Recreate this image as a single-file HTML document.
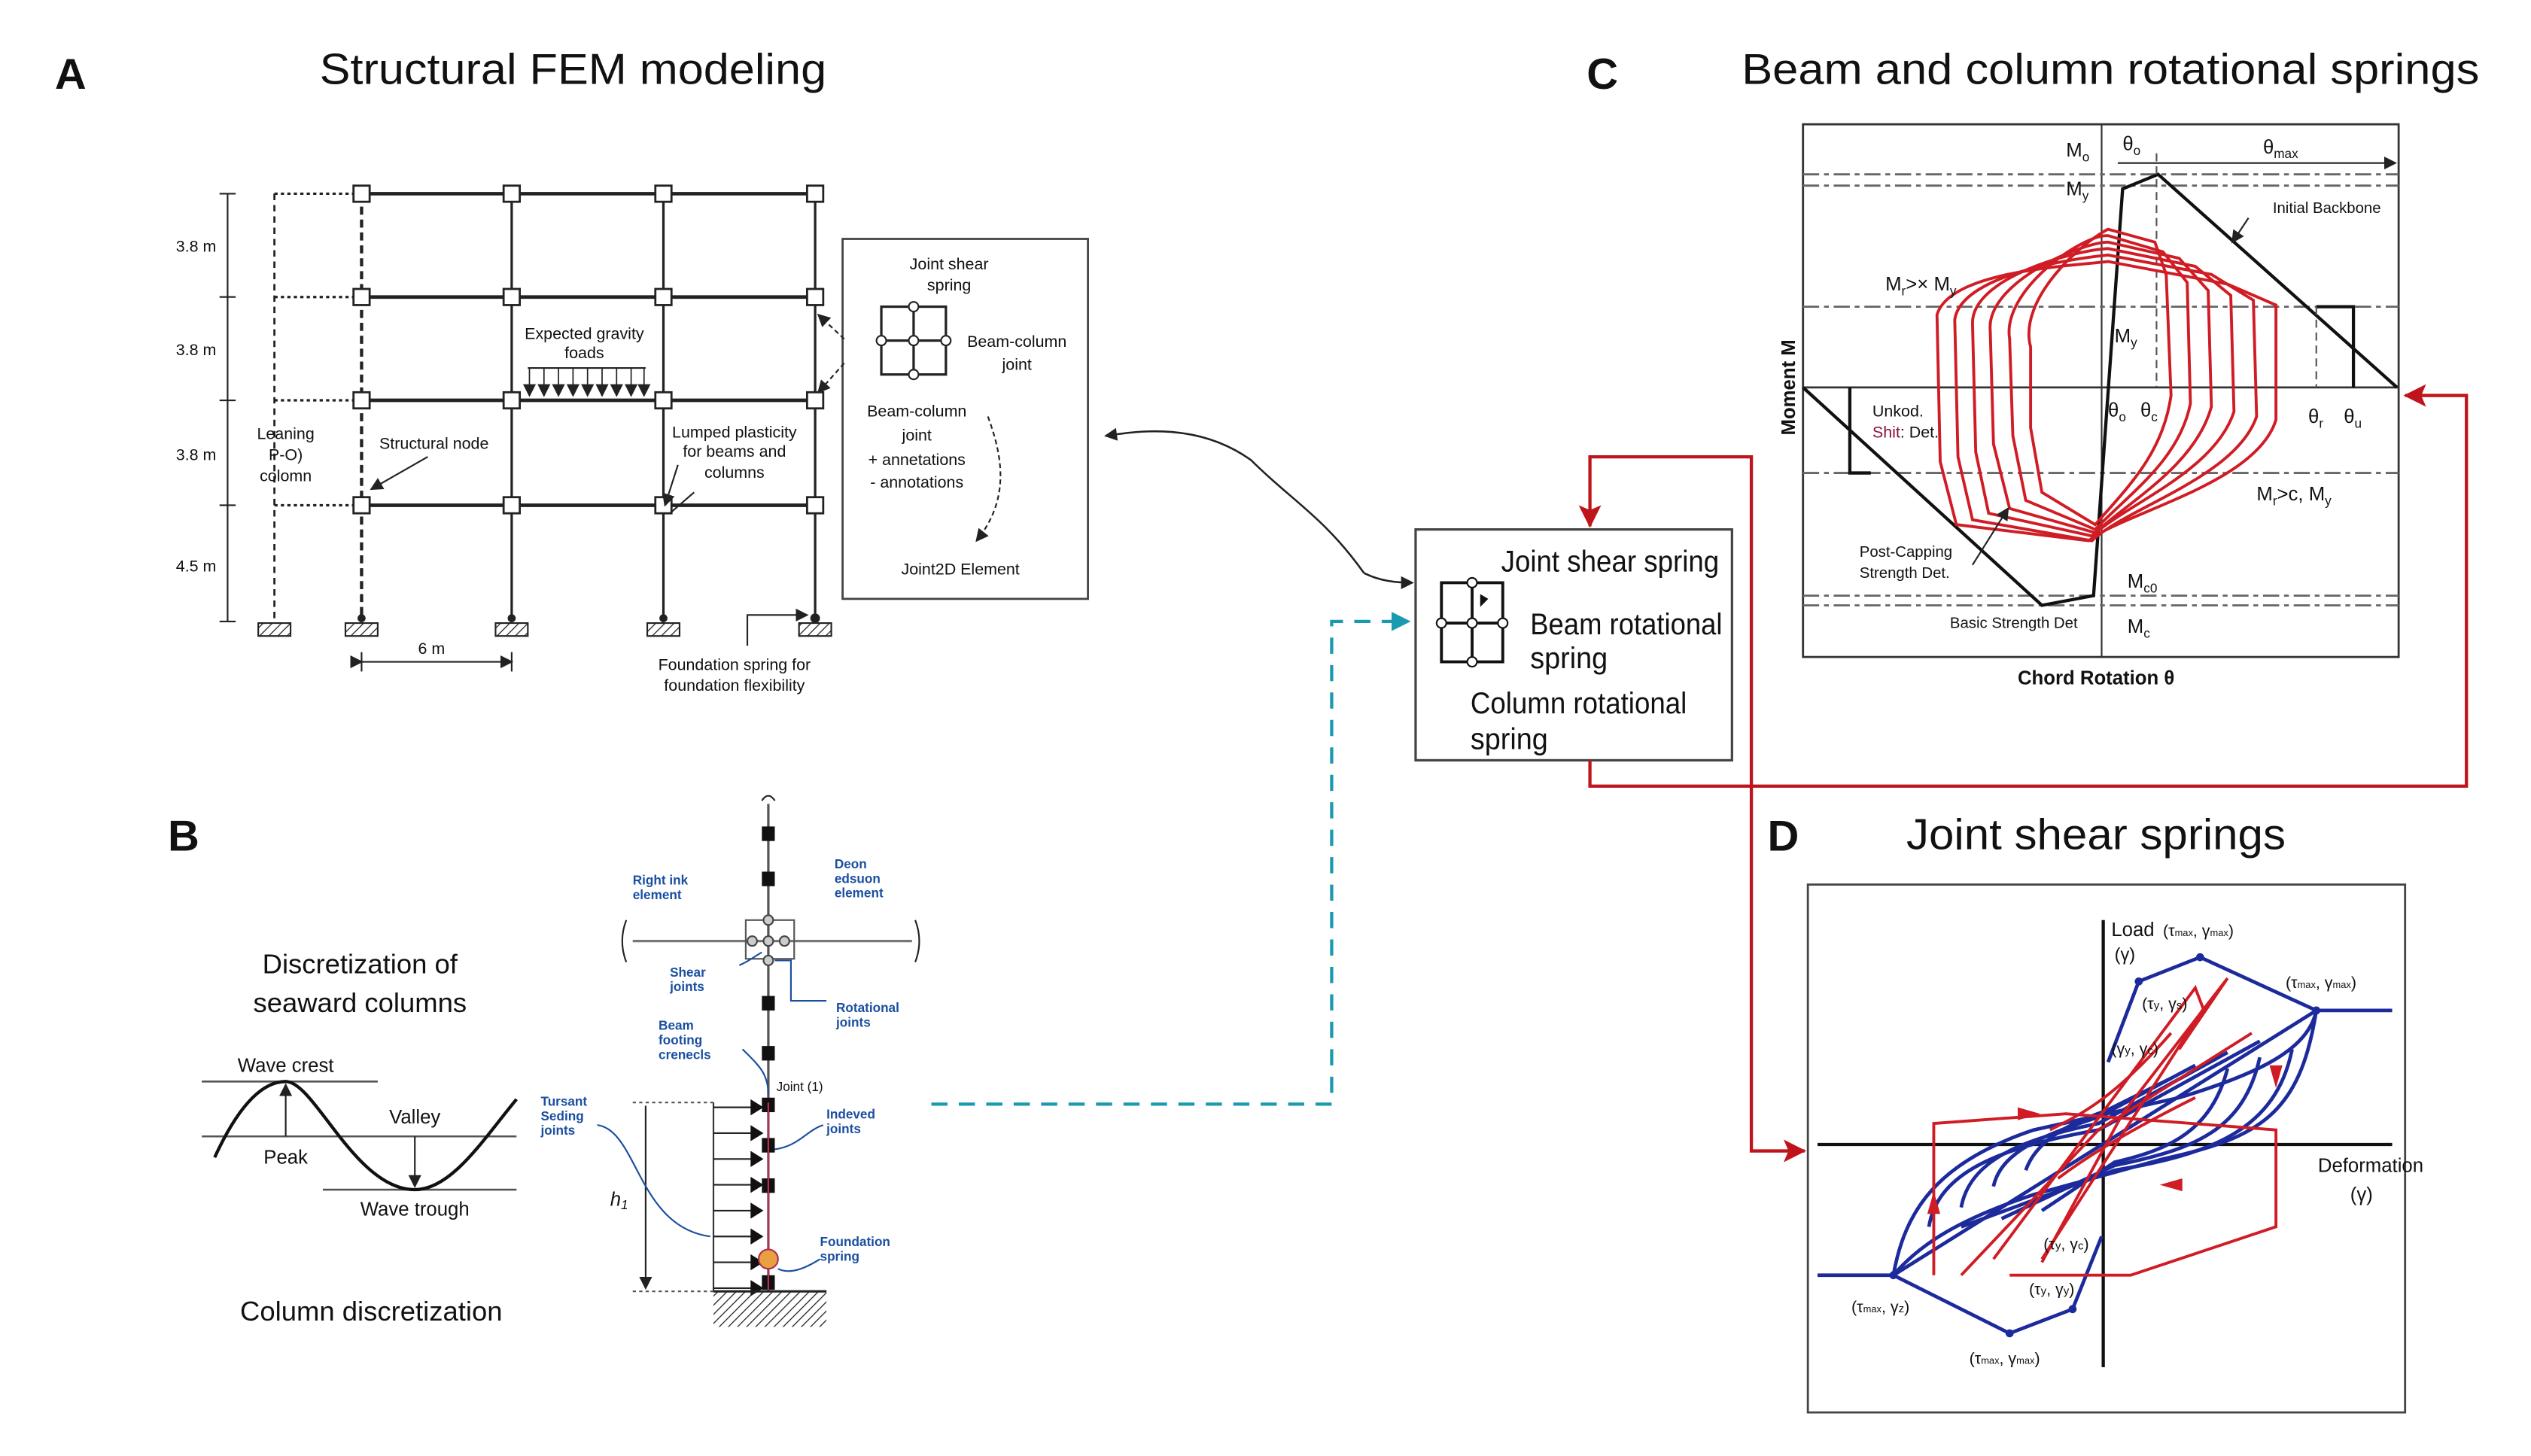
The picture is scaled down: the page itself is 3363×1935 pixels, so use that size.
<!DOCTYPE html>
<html><head><meta charset="utf-8"><style>
html,body{margin:0;padding:0;background:#fff;}
svg{display:block;}
text{font-family:"Liberation Sans",sans-serif;fill:#111;}
.t{font-size:27px;}
.L{font-size:27px;font-weight:bold;}
.s{font-size:10px;}
.b{fill:#1a4fa0;font-size:8px;font-weight:bold;}
</style></head><body>
<svg width="3363" height="1935" viewBox="0 0 1568 902" preserveAspectRatio="none" xmlns="http://www.w3.org/2000/svg">
<defs>
<marker id="ar" markerWidth="8" markerHeight="8" refX="7" refY="4" orient="auto" markerUnits="userSpaceOnUse"><path d="M0,0 L8,4 L0,8 Z" fill="#222"/></marker>
<marker id="arr" markerWidth="14" markerHeight="14" refX="13" refY="7" orient="auto" markerUnits="userSpaceOnUse"><path d="M0,0 L14,7 L0,14 L3,7 Z" fill="#c0141c"/></marker>
<marker id="arc" markerWidth="12" markerHeight="12" refX="11" refY="6" orient="auto" markerUnits="userSpaceOnUse"><path d="M0,0 L12,6 L0,12 Z" fill="#1a9ab0"/></marker>
<pattern id="h" width="4" height="4" patternUnits="userSpaceOnUse" patternTransform="rotate(45)"><line x1="0" y1="0" x2="0" y2="4" stroke="#222" stroke-width="1.2"/></pattern>
</defs>

<!-- Titles -->
<text x="34" y="55" class="L">A</text>
<text x="198" y="52" class="t" textLength="314" lengthAdjust="spacingAndGlyphs">Structural FEM modeling</text>
<text x="983" y="55" class="L">C</text>
<text x="1079" y="52" class="t" textLength="457" lengthAdjust="spacingAndGlyphs">Beam and column rotational springs</text>
<text x="104" y="527" class="L">B</text>
<text x="1095" y="527" class="L">D</text>
<text x="1181" y="526" class="t" textLength="235" lengthAdjust="spacingAndGlyphs">Joint shear springs</text>

<!-- Panel A frame -->
<g stroke="#222" fill="none">
<line x1="141" y1="120" x2="141" y2="385" stroke-width="1"/>
<g stroke-width="1"><line x1="136" y1="120" x2="146" y2="120"/><line x1="136" y1="184" x2="146" y2="184"/><line x1="136" y1="248" x2="146" y2="248"/><line x1="136" y1="313" x2="146" y2="313"/><line x1="136" y1="385" x2="146" y2="385"/></g>
<line x1="170" y1="120" x2="170" y2="385" stroke-dasharray="4,3" stroke-width="1.3"/>
<line x1="224" y1="120" x2="224" y2="385" stroke-dasharray="5,3" stroke-width="2"/>
<line x1="317" y1="120" x2="317" y2="385" stroke-width="1.5"/>
<line x1="411" y1="120" x2="411" y2="385" stroke-width="1.5"/>
<line x1="505" y1="120" x2="505" y2="385" stroke-width="1.5"/>
<g stroke-width="2.2"><line x1="224" y1="120" x2="505" y2="120"/><line x1="224" y1="184" x2="505" y2="184"/><line x1="224" y1="248" x2="505" y2="248"/><line x1="224" y1="313" x2="505" y2="313"/></g>
<g stroke-width="1.5" stroke-dasharray="2,2"><line x1="170" y1="120" x2="224" y2="120"/><line x1="170" y1="184" x2="224" y2="184"/><line x1="170" y1="248" x2="224" y2="248"/><line x1="170" y1="313" x2="224" y2="313"/></g>
</g>
<g fill="#fff" stroke="#222" stroke-width="1.3">
<rect x="219" y="115" width="10" height="10"/><rect x="312" y="115" width="10" height="10"/><rect x="406" y="115" width="10" height="10"/><rect x="500" y="115" width="10" height="10"/>
<rect x="219" y="179" width="10" height="10"/><rect x="312" y="179" width="10" height="10"/><rect x="406" y="179" width="10" height="10"/><rect x="500" y="179" width="10" height="10"/>
<rect x="219" y="243" width="10" height="10"/><rect x="312" y="243" width="10" height="10"/><rect x="406" y="243" width="10" height="10"/><rect x="500" y="243" width="10" height="10"/>
<rect x="219" y="308" width="10" height="10"/><rect x="312" y="308" width="10" height="10"/><rect x="406" y="308" width="10" height="10"/><rect x="500" y="308" width="10" height="10"/>
</g>
<g fill="url(#h)" stroke="#222" stroke-width="1">
<rect x="160" y="386" width="20" height="8"/><rect x="214" y="386" width="20" height="8"/><rect x="307" y="386" width="20" height="8"/><rect x="401" y="386" width="20" height="8"/><rect x="495" y="386" width="20" height="8"/>
</g>
<g fill="#222"><circle cx="224" cy="383" r="2.5"/><circle cx="317" cy="383" r="2.5"/><circle cx="411" cy="383" r="2.5"/><circle cx="505" cy="383" r="3"/></g>
<text x="109" y="156" class="s">3.8 m</text><text x="109" y="220" class="s">3.8 m</text><text x="109" y="285" class="s">3.8 m</text><text x="109" y="354" class="s">4.5 m</text>
<line x1="224" y1="410" x2="317" y2="410" stroke="#222" stroke-width="1" marker-end="url(#ar)" marker-start="url(#ar)"/>
<line x1="224" y1="404" x2="224" y2="416" stroke="#222"/><line x1="317" y1="404" x2="317" y2="416" stroke="#222"/>
<text x="259" y="405" class="s">6 m</text>
<line x1="327" y1="228" x2="400" y2="228" stroke="#222"/>
<g stroke="#222" stroke-width="0.8">
<line x1="328" y1="228" x2="328" y2="245" marker-end="url(#ar)"/><line x1="337" y1="228" x2="337" y2="245" marker-end="url(#ar)"/><line x1="346" y1="228" x2="346" y2="245" marker-end="url(#ar)"/><line x1="355" y1="228" x2="355" y2="245" marker-end="url(#ar)"/><line x1="364" y1="228" x2="364" y2="245" marker-end="url(#ar)"/><line x1="373" y1="228" x2="373" y2="245" marker-end="url(#ar)"/><line x1="382" y1="228" x2="382" y2="245" marker-end="url(#ar)"/><line x1="391" y1="228" x2="391" y2="245" marker-end="url(#ar)"/><line x1="399" y1="228" x2="399" y2="245" marker-end="url(#ar)"/>
</g>
<text x="362" y="210" class="s" text-anchor="middle">Expected gravity</text><text x="362" y="222" class="s" text-anchor="middle">foads</text>
<text x="177" y="272" class="s" text-anchor="middle">Leaning</text><text x="177" y="285" class="s" text-anchor="middle">P-O)</text><text x="177" y="298" class="s" text-anchor="middle">colomn</text>
<text x="235" y="278" class="s">Structural node</text>
<line x1="265" y1="283" x2="230" y2="303" stroke="#222" marker-end="url(#ar)"/>
<text x="455" y="271" class="s" text-anchor="middle">Lumped plasticity</text><text x="455" y="283" class="s" text-anchor="middle">for beams and</text><text x="455" y="296" class="s" text-anchor="middle">columns</text>
<line x1="420" y1="288" x2="412" y2="313" stroke="#222" marker-end="url(#ar)"/><line x1="430" y1="305" x2="415" y2="318" stroke="#222"/>
<path d="M463,400 L463,381 L500,381" stroke="#222" fill="none" marker-end="url(#ar)"/>
<text x="455" y="415" class="s" text-anchor="middle">Foundation spring for</text><text x="455" y="428" class="s" text-anchor="middle">foundation flexibility</text>
<rect x="522" y="148" width="152" height="223" fill="none" stroke="#444" stroke-width="1.3"/>
<g stroke="#222" stroke-width="1.5" fill="none"><rect x="546" y="190" width="40" height="42"/><line x1="566" y1="190" x2="566" y2="232"/><line x1="546" y1="211" x2="586" y2="211"/></g>
<g fill="#fff" stroke="#222"><circle cx="566" cy="190" r="3"/><circle cx="566" cy="211" r="3"/><circle cx="546" cy="211" r="3"/><circle cx="586" cy="211" r="3"/><circle cx="566" cy="232" r="3"/></g>
<text x="588" y="167" class="s" text-anchor="middle">Joint shear</text><text x="588" y="180" class="s" text-anchor="middle">spring</text>
<text x="630" y="215" class="s" text-anchor="middle" font-size="11">Beam-column</text><text x="630" y="229" class="s" text-anchor="middle" font-size="11">joint</text>
<text x="568" y="258" class="s" text-anchor="middle" font-size="11">Beam-column</text><text x="568" y="273" class="s" text-anchor="middle" font-size="11">joint</text>
<text x="568" y="288" class="s" text-anchor="middle">+ annetations</text><text x="568" y="302" class="s" text-anchor="middle">- annotations</text>
<text x="595" y="356" class="s" text-anchor="middle">Joint2D Element</text>
<path d="M612,258 C622,285 625,310 605,335" stroke="#222" fill="none" stroke-dasharray="3,2" marker-end="url(#ar)"/>
<line x1="523" y1="210" x2="507" y2="195" stroke="#222" stroke-dasharray="3,2" marker-end="url(#ar)"/>
<line x1="523" y1="225" x2="507" y2="243" stroke="#222" stroke-dasharray="3,2" marker-end="url(#ar)"/>
<path d="M845,355 C820,320 800,310 775,285 C740,260 700,268 685,270" stroke="#222" fill="none" stroke-width="1.2" marker-end="url(#ar)"/>
<path d="M845,355 C855,360 865,361 875,361" stroke="#222" fill="none" stroke-width="1.2" marker-end="url(#ar)"/>

<!-- central box -->
<rect x="877" y="328" width="196" height="143" fill="#fff" stroke="#444" stroke-width="1.5"/>
<g stroke="#111" stroke-width="1.8" fill="none"><rect x="893" y="361" width="38" height="49"/><line x1="912" y1="361" x2="912" y2="410"/><line x1="893" y1="386" x2="931" y2="386"/></g>
<g fill="#fff" stroke="#111"><circle cx="912" cy="361" r="3"/><circle cx="912" cy="386" r="3"/><circle cx="893" cy="386" r="3"/><circle cx="931" cy="386" r="3"/><circle cx="912" cy="410" r="3"/></g>
<path d="M917,376 L922,371 L917,368 Z" fill="#111"/>
<text x="930" y="354" font-size="18.5" textLength="135" lengthAdjust="spacingAndGlyphs">Joint shear spring</text>
<text x="948" y="393" font-size="18.5" textLength="119" lengthAdjust="spacingAndGlyphs">Beam rotational</text><text x="948" y="414" font-size="18.5" textLength="48" lengthAdjust="spacingAndGlyphs">spring</text>
<text x="911" y="442" font-size="18.5" textLength="134" lengthAdjust="spacingAndGlyphs">Column rotational</text><text x="911" y="464" font-size="18.5" textLength="48" lengthAdjust="spacingAndGlyphs">spring</text>

<!-- connectors -->
<path d="M577,684 L825,684 L825,385 L873,385" stroke="#1a9ab0" stroke-width="2" fill="none" stroke-dasharray="10,7" marker-end="url(#arc)"/>
<path d="M1085,487 L1085,283 L985,283 L985,326" stroke="#c0141c" stroke-width="2" fill="none" marker-end="url(#arr)"/>
<path d="M1085,487 L1085,713 L1118,713" stroke="#c0141c" stroke-width="2" fill="none" marker-end="url(#arr)"/>
<path d="M985,471 L985,487 L1528,487 L1528,245 L1490,245" stroke="#c0141c" stroke-width="2" fill="none" marker-end="url(#arr)"/>

<!-- Chart C -->
<rect x="1117" y="77" width="369" height="330" fill="none" stroke="#333" stroke-width="1.3"/>
<line x1="1302" y1="77" x2="1302" y2="407" stroke="#333" stroke-width="1"/>
<line x1="1117" y1="240" x2="1486" y2="240" stroke="#333" stroke-width="1.3"/>
<g stroke="#666" stroke-width="1.3" stroke-dasharray="10,3,3,3"><line x1="1117" y1="108" x2="1486" y2="108"/><line x1="1117" y1="115" x2="1486" y2="115"/><line x1="1117" y1="190" x2="1486" y2="190"/><line x1="1117" y1="293" x2="1486" y2="293"/><line x1="1117" y1="369" x2="1486" y2="369"/><line x1="1117" y1="375" x2="1486" y2="375"/></g>
<path d="M1485,240 L1337,108 L1315,117 L1297,369 L1265,375 L1117,240" stroke="#111" stroke-width="2" fill="none"/>
<path d="M1435,190 L1458,190 L1458,240" stroke="#111" stroke-width="2" fill="none"/>
<path d="M1146,240 L1146,293 L1159,293" stroke="#111" stroke-width="2" fill="none"/>
<line x1="1435" y1="190" x2="1435" y2="240" stroke="#555" stroke-dasharray="5,3"/>
<line x1="1336" y1="95" x2="1336" y2="240" stroke="#555" stroke-dasharray="5,3"/>
<line x1="1312" y1="101" x2="1484" y2="101" stroke="#222" marker-end="url(#ar)"/>
<g stroke="#d01c24" stroke-width="1.8" fill="none">
<path d="M1258,215 C1250,185 1290,150 1306,142 L1335,150 L1342,170 L1345,245 C1340,280 1320,300 1298,325 L1265,305 L1258,265 Z"/>
<path d="M1245,210 C1240,180 1290,145 1306,146 L1340,156 L1355,175 L1357,250 C1350,285 1320,305 1298,328 L1255,310 L1247,270 Z"/>
<path d="M1233,205 C1230,175 1290,150 1306,150 L1350,160 L1368,180 L1370,252 C1360,288 1320,310 1298,330 L1245,315 L1235,275 Z"/>
<path d="M1222,200 C1222,172 1285,155 1306,154 L1360,165 L1382,183 L1384,255 C1372,292 1318,312 1296,332 L1232,318 L1224,280 Z"/>
<path d="M1211,198 C1215,170 1285,160 1306,158 L1370,170 L1396,186 L1398,258 C1385,296 1316,315 1296,335 L1222,322 L1213,283 Z"/>
<path d="M1200,195 C1208,168 1280,165 1306,162 L1380,176 L1410,189 L1410,260 C1398,300 1314,318 1294,335 L1212,325 L1202,286 Z"/>
</g>
<text x="1280" y="97" font-size="12">M<tspan font-size="8" dy="3">o</tspan></text>
<text x="1280" y="121" font-size="12">M<tspan font-size="8" dy="3">y</tspan></text>
<text x="1315" y="93" font-size="12">θ<tspan font-size="8" dy="3">o</tspan></text>
<text x="1402" y="95" font-size="12">θ<tspan font-size="8" dy="3">max</tspan></text>
<text x="1408" y="132" font-size="9.5">Initial Backbone</text>
<line x1="1393" y1="135" x2="1383" y2="150" stroke="#222" marker-end="url(#ar)"/>
<text x="1168" y="180" font-size="12">M<tspan font-size="8" dy="3">r</tspan><tspan dy="-3">&gt;× M</tspan><tspan font-size="8" dy="3">y</tspan></text>
<text x="1310" y="212" font-size="12">M<tspan font-size="8" dy="3">y</tspan></text>
<text x="1306" y="258" font-size="12">θ<tspan font-size="8" dy="3">o</tspan></text>
<text x="1326" y="258" font-size="12">θ<tspan font-size="8" dy="3">c</tspan></text>
<text x="1430" y="262" font-size="12">θ<tspan font-size="8" dy="3">r</tspan></text>
<text x="1452" y="262" font-size="12">θ<tspan font-size="8" dy="3">u</tspan></text>
<text x="1160" y="258" font-size="10">Unkod.</text><text x="1160" y="271" font-size="10"><tspan fill="#8a1040">Shit</tspan>: Det.</text>
<text x="1398" y="310" font-size="12">M<tspan font-size="8" dy="3">r</tspan><tspan dy="-3">&gt;c, M</tspan><tspan font-size="8" dy="3">y</tspan></text>
<text x="1152" y="345" font-size="9.5">Post-Capping</text><text x="1152" y="358" font-size="9.5">Strength Det.</text>
<line x1="1222" y1="350" x2="1244" y2="315" stroke="#222" marker-end="url(#ar)"/>
<text x="1318" y="364" font-size="12">M<tspan font-size="8" dy="3">c0</tspan></text>
<text x="1318" y="392" font-size="12">M<tspan font-size="8" dy="3">c</tspan></text>
<text x="1208" y="389" font-size="9.5">Basic Strength Det</text>
<text x="1250" y="424" font-size="12" font-weight="bold">Chord Rotation θ</text>
<text x="1112" y="240" font-size="12" font-weight="bold" text-anchor="middle" transform="rotate(-90 1112 240)">Moment M</text>

<!-- Chart D -->
<rect x="1120" y="548" width="370" height="327" fill="none" stroke="#444" stroke-width="1.3"/>
<line x1="1303" y1="570" x2="1303" y2="847" stroke="#111" stroke-width="2"/>
<line x1="1126" y1="709" x2="1482" y2="709" stroke="#111" stroke-width="2"/>
<g stroke="#1c2a9c" stroke-width="2.2" fill="none">
<path d="M1306,658 L1325,608 L1363,593 L1435,626 L1482,626"/>
<path d="M1302,766 L1284,811 L1245,826 L1173,790 L1126,790"/>
<line x1="1173" y1="790" x2="1435" y2="626"/>
<path d="M1173,790 C1180,750 1200,720 1260,700 L1350,680 C1400,665 1430,650 1435,626"/>
<path d="M1435,626 C1425,690 1400,705 1340,718 L1260,740 C1215,755 1190,770 1173,790"/>
<path d="M1195,760 C1200,730 1230,712 1300,700 L1400,645"/>
<path d="M1215,748 C1220,720 1250,706 1300,696 L1380,652"/>
<path d="M1235,735 C1240,712 1270,702 1300,692 L1360,660"/>
<path d="M1255,725 C1262,705 1285,695 1305,688 L1345,668"/>
<path d="M1420,650 C1410,700 1370,715 1310,725 L1215,760"/>
<path d="M1400,655 C1390,700 1360,712 1310,722 L1240,755"/>
<path d="M1380,662 C1370,700 1345,712 1310,720 L1265,750"/>
</g>
<g stroke="#d01c24" stroke-width="1.8" fill="none">
<path d="M1198,790 L1198,696 L1280,690 L1410,700 L1410,760 L1320,790 L1245,790"/>
<path d="M1235,780 L1360,612 L1365,625 L1265,780"/>
<path d="M1265,782 L1315,690 L1380,606 L1350,650"/>
<path d="M1215,790 L1300,700 L1395,640"/>
<path d="M1270,700 C1290,690 1310,680 1345,640"/>
<path d="M1275,730 C1295,715 1320,700 1360,680"/>
</g>
<g fill="#d01c24"><path d="M1194,752 L1198,738 L1202,752 Z"/><path d="M1406,660 L1410,674 L1414,660 Z"/><path d="M1250,686 L1264,690 L1250,694 Z"/><path d="M1352,730 L1338,734 L1352,738 Z"/></g>
<g fill="#1c2a9c"><circle cx="1363" cy="593" r="2.5"/><circle cx="1325" cy="608" r="2.5"/><circle cx="1435" cy="626" r="2.5"/><circle cx="1173" cy="790" r="2.5"/><circle cx="1245" cy="826" r="2.5"/><circle cx="1284" cy="811" r="2.5"/></g>
<text x="1308" y="580" font-size="12">Load</text><text x="1310" y="595" font-size="11">(γ)</text>
<text x="1340" y="580" font-size="10">(τ<tspan font-size="6">max</tspan>, γ<tspan font-size="6">max</tspan>)</text>
<text x="1416" y="612" font-size="10">(τ<tspan font-size="6">max</tspan>, γ<tspan font-size="6">max</tspan>)</text>
<text x="1327" y="625" font-size="10" fill="#2a2a8a">(τ<tspan font-size="7">y</tspan>, γ<tspan font-size="7">s</tspan>)</text>
<text x="1308" y="653" font-size="10" fill="#2a2a8a">(γ<tspan font-size="7">y</tspan>, γ<tspan font-size="7">c</tspan>)</text>
<text x="1436" y="726" font-size="12">Deformation</text><text x="1456" y="744" font-size="12">(γ)</text>
<text x="1266" y="774" font-size="10">(τ<tspan font-size="7">y</tspan>, γ<tspan font-size="7">c</tspan>)</text>
<text x="1257" y="802" font-size="10" fill="#2a2a8a">(τ<tspan font-size="7">y</tspan>, γ<tspan font-size="7">y</tspan>)</text>
<text x="1147" y="813" font-size="10">(τ<tspan font-size="6">max</tspan>, γ<tspan font-size="7">z</tspan>)</text>
<text x="1220" y="845" font-size="10">(τ<tspan font-size="6">max</tspan>, γ<tspan font-size="6">max</tspan>)</text>

<!-- Panel B -->
<text x="223" y="603" font-size="17" text-anchor="middle">Discretization of</text>
<text x="223" y="627" font-size="17" text-anchor="middle">seaward columns</text>
<g stroke="#555" stroke-width="1.2"><line x1="125" y1="670" x2="234" y2="670"/><line x1="125" y1="704" x2="320" y2="704"/><line x1="200" y1="737" x2="320" y2="737"/></g>
<path d="M133,717 C150,680 165,670 177,670 C195,670 220,737 257,737 C280,737 300,705 320,681" stroke="#111" stroke-width="2" fill="none"/>
<line x1="177" y1="704" x2="177" y2="672" stroke="#222" marker-end="url(#ar)"/>
<line x1="257" y1="704" x2="257" y2="735" stroke="#222" marker-end="url(#ar)"/>
<text x="177" y="664" font-size="12" text-anchor="middle">Wave crest</text>
<text x="257" y="696" font-size="12" text-anchor="middle">Valley</text>
<text x="177" y="721" font-size="12" text-anchor="middle">Peak</text>
<text x="257" y="753" font-size="12" text-anchor="middle">Wave trough</text>
<text x="230" y="818" font-size="17" text-anchor="middle">Column discretization</text>
<line x1="476" y1="498" x2="476" y2="800" stroke="#555" stroke-width="1.5"/>
<path d="M472,496 Q476,490 480,496" stroke="#222" fill="none"/>
<g fill="#111"><rect x="472" y="512" width="8" height="9"/><rect x="472" y="540" width="8" height="9"/><rect x="472" y="617" width="8" height="9"/><rect x="472" y="648" width="8" height="9"/><rect x="472" y="680" width="8" height="9"/><rect x="472" y="705" width="8" height="9"/><rect x="472" y="730" width="8" height="9"/><rect x="472" y="790" width="8" height="9"/></g>
<line x1="392" y1="583" x2="565" y2="583" stroke="#777" stroke-width="1.5"/>
<rect x="462" y="570" width="30" height="24" fill="none" stroke="#555"/>
<g fill="#ccc" stroke="#444"><circle cx="476" cy="570" r="3"/><circle cx="476" cy="583" r="3"/><circle cx="466" cy="583" r="3"/><circle cx="486" cy="583" r="3"/><circle cx="476" cy="595" r="3"/></g>
<path d="M388,570 Q383,583 388,596" stroke="#222" fill="none"/><path d="M567,570 Q572,583 567,596" stroke="#222" fill="none"/>
<line x1="442" y1="683" x2="442" y2="800" stroke="#333"/>
<g stroke="#222" stroke-width="1"><line x1="442" y1="686" x2="466" y2="686"/><line x1="442" y1="702" x2="466" y2="702"/><line x1="442" y1="718" x2="466" y2="718"/><line x1="442" y1="734" x2="466" y2="734"/><line x1="442" y1="750" x2="466" y2="750"/><line x1="442" y1="766" x2="466" y2="766"/><line x1="442" y1="782" x2="466" y2="782"/><line x1="442" y1="798" x2="466" y2="798"/></g>
<g fill="#111"><path d="M465,681 L473,686 L465,691Z"/><path d="M465,697 L473,702 L465,707Z"/><path d="M465,713 L473,718 L465,723Z"/><path d="M465,729 L473,734 L465,739Z"/><path d="M465,745 L473,750 L465,755Z"/><path d="M465,761 L473,766 L465,771Z"/><path d="M465,777 L473,782 L465,787Z"/><path d="M465,793 L473,798 L465,803Z"/></g>
<line x1="476" y1="683" x2="476" y2="800" stroke="#c03050" stroke-width="1"/>
<circle cx="476" cy="780" r="6" fill="#e8a040" stroke="#b03050"/>
<line x1="392" y1="683" x2="442" y2="683" stroke="#555" stroke-dasharray="2,2"/>
<line x1="392" y1="800" x2="442" y2="800" stroke="#555" stroke-dasharray="2,2"/>
<line x1="400" y1="685" x2="400" y2="798" stroke="#222" marker-end="url(#ar)"/>
<text x="378" y="747" font-size="12" font-style="italic">h<tspan font-size="8" dy="2">1</tspan></text>
<rect x="442" y="800" width="70" height="22" fill="url(#h)"/><line x1="442" y1="800" x2="512" y2="800" stroke="#222" stroke-width="1.5"/>
<text x="392" y="548" class="b">Right ink</text><text x="392" y="557" class="b">element</text>
<text x="517" y="538" class="b">Deon</text><text x="517" y="547" class="b">edsuon</text><text x="517" y="556" class="b">element</text>
<text x="415" y="605" class="b">Shear</text><text x="415" y="614" class="b">joints</text>
<text x="518" y="627" class="b">Rotational</text><text x="518" y="636" class="b">joints</text>
<text x="408" y="638" class="b">Beam</text><text x="408" y="647" class="b">footing</text><text x="408" y="656" class="b">crenecls</text>
<text x="481" y="676" font-size="8">Joint (1)</text>
<text x="335" y="685" class="b">Tursant</text><text x="335" y="694" class="b">Seding</text><text x="335" y="703" class="b">joints</text>
<text x="512" y="693" class="b">Indeved</text><text x="512" y="702" class="b">joints</text>
<text x="508" y="772" class="b">Foundation</text><text x="508" y="781" class="b">spring</text>
<g stroke="#1a4fa0" fill="none" stroke-width="1"><path d="M370,697 C395,700 395,760 440,766"/><path d="M510,697 C500,700 495,710 480,712"/><path d="M508,780 C500,785 490,790 482,786"/><path d="M460,650 C470,660 476,665 476,678"/><path d="M458,598 C465,595 468,592 472,590"/><path d="M512,620 L490,620 L490,595 L480,595"/></g>
</svg>
</body></html>
